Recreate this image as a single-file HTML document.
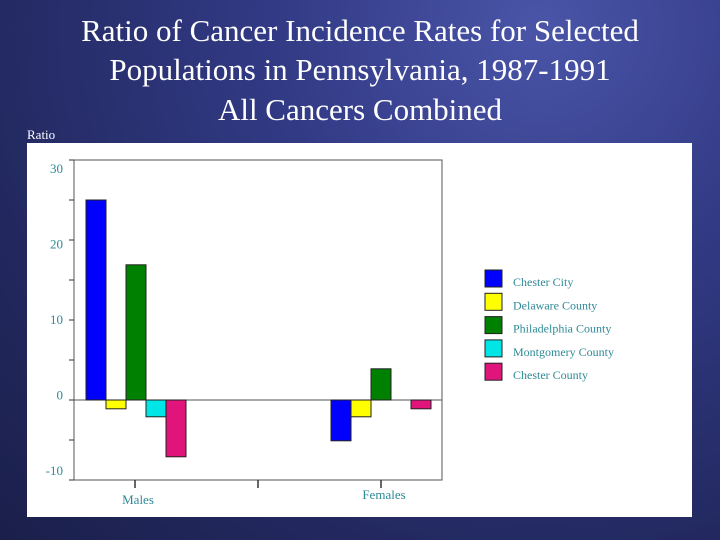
<!DOCTYPE html>
<html><head><meta charset="utf-8"><style>
body{margin:0;width:720px;height:540px;overflow:hidden;font-family:"Liberation Serif",serif;}
#bg{position:absolute;left:0;top:0;width:720px;height:540px;background:radial-gradient(ellipse at 75% 5%,#4a55a8 0%,#323a85 35%,#22285e 75%,#1a1f4a 100%);}
.t{position:absolute;color:#fff;text-align:center;width:720px;left:0;font-size:31px;}
</style></head><body>
<div id="bg"></div>
<div class="t" style="top:11px;line-height:39px">Ratio of Cancer Incidence Rates for Selected<br>Populations in Pennsylvania, 1987-1991</div>
<div class="t" style="top:92px">All Cancers Combined</div>
<div style="position:absolute;left:27px;top:127px;color:#fff;font-size:13px">Ratio</div>
<svg style="position:absolute;left:0;top:0" width="720" height="540" id="chart">
<rect x="27" y="143" width="665" height="374" fill="#fff"/>
</svg>
<script>
const categories=["Males","Females"];
const series=["Chester City","Delaware County","Philadelphia County","Montgomery County","Chester County"];
const colors=["#0000ff","#ffff00","#008000","#00e5e5","#e0147a"];
const maleValues=[25,-1.1,16.9,-2.1,-7.1];
const femaleValues=[-5.1,-2.1,3.9,0,-1.1];
const yTicks=[-10,0,10,20,30];
const values=[maleValues,femaleValues];
const svg=document.getElementById('chart');
const NS="http://www.w3.org/2000/svg";
const L=74,R=442,T=160,B=480,ymin=-10,ymax=30;
function y(v){return B-(v-ymin)/(ymax-ymin)*(B-T);}
function ly(v){return 168+(ymax-v)/(ymax-ymin)*302;}
const band=245;
function mk(tag,a){const e=document.createElementNS(NS,tag);for(const k in a)e.setAttribute(k,a[k]);svg.appendChild(e);return e;}
let e=mk('rect',{x:L,y:T,width:R-L,height:B-T,fill:'none',stroke:'#555','stroke-width':1});


e=mk('line',{x1:L,x2:R,y1:y(0),y2:y(0),stroke:'#555'});


for(let v=ymin;v<=ymax;v+=5){
 e=mk('line',{x1:L-5,x2:L,y1:y(v),y2:y(v),stroke:'#333'});
 
 
}
yTicks.forEach(v=>{
 e=mk('text',{x:63,y:ly(v)+5,'text-anchor':'end','font-size':13,fill:'#2e8a96','font-family':'Liberation Serif, serif'});
 e.textContent=v;
 
 
});
[0,1,2].forEach(i=>{
 const x=L+61+i*123;
 e=mk('line',{x1:x,x2:x,y1:B,y2:B+8,stroke:'#333','stroke-width':1.5});
 
 
});
categories.forEach((c,i)=>{
 values[i].forEach((v,j)=>{
  const x=L+12+i*band+j*20;
  const y0=y(Math.max(v,0)),h=Math.abs(y(v)-y(0));
  if(h<0.5)return;
  e=mk('rect',{x:x,y:y0,width:20,height:h,fill:colors[j],stroke:'#222','stroke-width':1});
  
  
 });
 e=mk('text',{x:L+64+i*band+(i?1:0),y:i?499:504,'text-anchor':'middle','font-size':13,fill:'#2e8a96','font-family':'Liberation Serif, serif'});
 e.textContent=c;
 
 
});
series.forEach((s,j)=>{
 const yy=270+j*23.3;
 e=mk('rect',{x:485,y:yy,width:17,height:17,fill:colors[j],stroke:'#222'});
 
 
 e=mk('text',{x:513,y:yy+16,'font-size':12,fill:'#2e8a96','font-family':'Liberation Serif, serif'});
 e.textContent=s;
 
 
});
</script>
</body></html>
